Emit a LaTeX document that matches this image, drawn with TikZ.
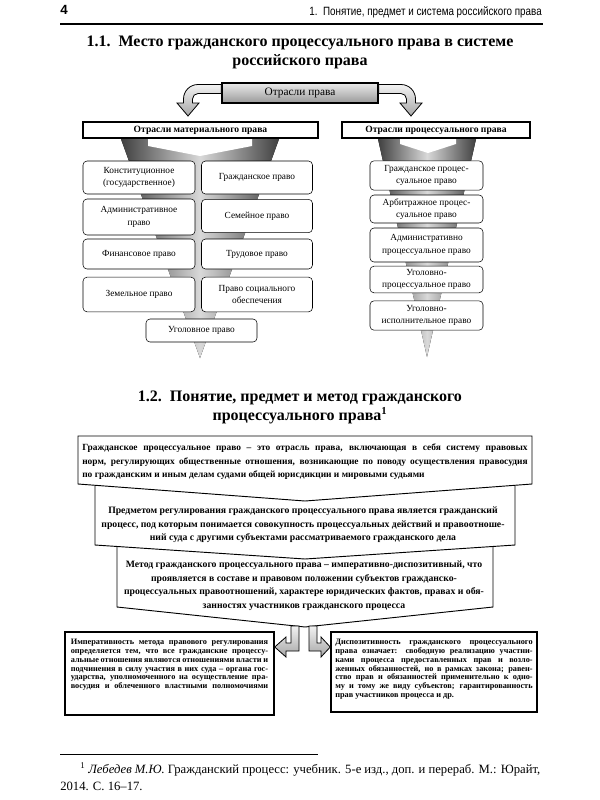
\documentclass[tikz,border=0pt]{standalone}
\usepackage{fontspec}
\setmainfont{Liberation Serif}
\newfontfamily\narrowsans[FakeStretch=0.82]{Liberation Sans}
\newfontfamily\plainsans{Liberation Sans}
\usetikzlibrary{positioning}
\tikzset{
  law box/.style={
    draw,
    rounded corners=3pt,
    fill=white,
    align=center,
    inner sep=1pt,
    font=\fontsize{7}{9.5}\selectfont,
  },
  head bar/.style={
    draw,
    line width=1.2pt,
    fill=white,
    minimum height=12pt,
    inner sep=0pt,
    font=\bfseries\fontsize{7.2}{8}\selectfont,
  },
  root box/.style={
    draw,
    line width=1.2pt,
    top color=black!8,
    bottom color=black!40,
    minimum width=117pt,
    minimum height=15pt,
    inner sep=0pt,
    font=\fontsize{8.5}{10}\selectfont,
  },
  block arrow/.style={
    draw,
    line width=0.6pt,
    top color=black!5,
    bottom color=black!35,
  },
  funnel/.style={
    left color=black!75,
    right color=black!75,
    middle color=black!15,
  },
  chevron box/.style={
    draw,
    line width=0.7pt,
    fill=white,
  },
  chevron text/.style={
    align=center,
    inner sep=0pt,
    font=\bfseries\fontsize{7.3}{10.2}\selectfont,
  },
  small box/.style={
    draw,
    line width=1.1pt,
    fill=white,
    inner sep=0pt,
  },
  small text/.style={
    align=left,
    inner sep=0pt,
    font=\bfseries\fontsize{6.2}{6.6}\selectfont,
  },
  title text/.style={
    align=center,
    inner sep=0pt,
    font=\bfseries\fontsize{12}{14.2}\selectfont,
  },
}
\newcommand{\fullline}[2]{\makebox[#1][s]{#2}}

\begin{document}
\begin{tikzpicture}[x=0.75pt, y=-0.75pt]
  \useasboundingbox[fill=white] (0,0) rectangle (600,800);

  \node[anchor=west, inner sep=0pt, font=\plainsans\bfseries\fontsize{10}{12}\selectfont] (pnum) at (60,10) {4};
  \node[anchor=east, inner sep=0pt, font=\narrowsans\fontsize{9}{11}\selectfont] (runhead) at (542,12) {1.~~Понятие, предмет и система российского права};
  \draw[line width=0.8pt] (60,24) -- (543,24);

  \node[title text] (title1) at (300,52.5) {1.1.~~Место гражданского процессуального права в системе\\российского права};

  \coordinate (mat tip) at (200,358);
  \coordinate (proc tip) at (427,357);
  \fill[funnel] (121,139) -- (279,139) -- (mat tip) -- cycle;
  \fill[funnel] (378,139) -- (476,139) -- (proc tip) -- cycle;
  \fill[white] (148,139) -- (252,139) -- (252,146) -- (200,156) -- (148,146) -- cycle;
  \fill[white] (400,139) -- (456,139) -- (456,144) -- (428,153) -- (400,144) -- cycle;

  \node[root box] (root) at (300,93) {Отрасли права};
  \draw[block arrow] (root.west |- 0,84.5) -- (198,84.5) arc[start angle=-90, end angle=-180, radius=14.5]
    -- (183.5,103) -- (177,103) -- (188,116) -- (199,103) -- (192.5,103) -- (192.5,99)
    arc[start angle=180, end angle=270, radius=5.5] -- (root.west |- 0,93.5) -- cycle;
  \draw[block arrow] (root.east |- 0,84.5) -- (401,84.5) arc[start angle=-90, end angle=0, radius=14.5]
    -- (415.5,103) -- (422,103) -- (411,116) -- (400,103) -- (406.5,103) -- (406.5,99)
    arc[start angle=0, end angle=-90, radius=5.5] -- (root.east |- 0,93.5) -- cycle;

  \node[head bar, minimum width=176pt] (mat) at (200.5,130) {Отрасли материального права};
  \node[head bar, minimum width=141pt] (proc) at (436,130) {Отрасли процессуального права};

  \node[law box, minimum width=84pt, minimum height=24.75pt] (konst) at (139,177.5) {Конституционное\\(государственное)};
  \node[law box, minimum width=83.25pt, minimum height=24.75pt] (civil) at (257,177.5) {Гражданское право};
  \node[law box, minimum width=84pt, minimum height=27pt] (admin) at (139,217) {Административное\\право};
  \node[law box, minimum width=83.25pt, minimum height=25pt] (family) at (257,216) {Семейное право};
  \node[law box, minimum width=84pt, minimum height=22.5pt] (finance) at (139,254) {Финансовое право};
  \node[law box, minimum width=83.25pt, minimum height=22.5pt] (labour) at (257,254) {Трудовое право};
  \node[law box, minimum width=84pt, minimum height=26pt] (land) at (139,294.5) {Земельное право};
  \node[law box, minimum width=83.25pt, minimum height=26pt] (social) at (257,294.5) {Право социального\\обеспечения};
  \node[law box, minimum width=83.25pt, minimum height=17.25pt] (crim) at (201.5,330.5) {Уголовное право};

  \node[law box, minimum width=84.75pt, minimum height=22pt] (civproc) at (426.5,175.5) {Гражданское процес-\\суальное право};
  \node[law box, minimum width=84.75pt, minimum height=21pt] (arbproc) at (426.5,209) {Арбитражное процес-\\суальное право};
  \node[law box, minimum width=84.75pt, minimum height=25.5pt] (admproc) at (426.5,245) {Административно\\процессуальное право};
  \node[law box, minimum width=84.75pt, minimum height=20pt] (crimproc) at (426.5,279.5) {Уголовно-\\процессуальное право};
  \node[law box, minimum width=84.75pt, minimum height=22pt] (crimexec) at (426.5,315.5) {Уголовно-\\исполнительное право};

  \node[title text] (title2) at (300,407.5) {1.2.~~Понятие, предмет и метод гражданского\\процессуального права\textsuperscript{1}};

  \draw[chevron box] (117,540) -- (493,540) -- (493,607) -- (305,627) -- (117,607) -- cycle;
  \draw[chevron box] (95,480) -- (515,480) -- (515,545) -- (305,559) -- (95,545) -- cycle;
  \draw[chevron box] (78,436) -- (532,436) -- (532,484) -- (305,501) -- (78,484) -- cycle;

  \node[chevron text, align=left, font=\bfseries\fontsize{7.05}{10.2}\selectfont] (defin) at (305,462) {%
    \fullline{334pt}{Гражданское процессуальное право – это отрасль права, включающая в себя систему правовых}\\
    \fullline{334pt}{норм, регулирующих общественные отношения, возникающие по поводу осуществления правосудия}\\
    по гражданским и иным делам судами общей юрисдикции и мировыми судьями};
  \node[chevron text] (subject) at (303,525) {%
    Предметом регулирования гражданского процессуального права является гражданский\\
    процесс, под которым понимается совокупность процессуальных действий и правоотноше-\\
    ний суда с другими субъектами рассматриваемого гражданского дела};
  \node[chevron text] (method) at (304,585.5) {%
    Метод гражданского процессуального права – императивно-диспозитивный, что\\
    проявляется в составе и правовом положении субъектов гражданско-\\
    процессуальных правоотношений, характере юридических фактов, правах и обя-\\
    занностях участников гражданского процесса};

  \node[small box, minimum width=156.75pt, minimum height=62.25pt] (imp box) at (169.5,673.5) {};
  \node[small box, minimum width=154.5pt, minimum height=60pt] (disp box) at (434,672) {};
  \node[small text, anchor=north] (imp text) at (imp box.north |- 0,639) {%
    \fullline{148pt}{Императивность метода правового регулирования}\\
    \fullline{148pt}{определяется тем, что все гражданские процессу-}\\
    \fullline{148pt}{альные отношения являются отношениями власти и}\\
    \fullline{148pt}{подчинения в силу участия в них суда – органа гос-}\\
    \fullline{148pt}{ударства, уполномоченного на осуществление пра-}\\
    \fullline{148pt}{восудия и облеченного властными полномочиями}};
  \node[small text, anchor=north] (disp text) at (disp box.north |- 0,639) {%
    \fullline{148pt}{Диспозитивность гражданского процессуального}\\
    \fullline{148pt}{права означает: свободную реализацию участни-}\\
    \fullline{148pt}{ками процесса предоставленных прав и возло-}\\
    \fullline{148pt}{женных обязанностей, но в рамках закона; равен-}\\
    \fullline{148pt}{ство прав и обязанностей применительно к одно-}\\
    \fullline{148pt}{му и тому же виду субъектов; гарантированность}\\
    прав участников процесса и др.};

  \draw[block arrow] (291,626) -- (299,626) -- (299,651) -- (286,651) -- (286,657) -- (imp box.east |- 0,647)
    -- (286,637) -- (286,643) -- (291,643) -- cycle;
  \draw[block arrow] (309,626) -- (317,626) -- (317,643) -- (321,643) -- (321,637) -- (disp box.west |- 0,647)
    -- (321,657) -- (321,651) -- (309,651) -- cycle;

  \draw[line width=0.5pt] (60,754) -- (318,754);
  \node[anchor=north west, align=left, inner sep=0pt, font=\fontsize{9.5}{12.75}\selectfont] (fnote) at (60,762) {%
    \hspace*{15pt}\fullline{345pt}{\textsuperscript{1}\ \textit{Лебедев М.Ю.} Гражданский процесс: учебник. 5-е изд., доп. и перераб. М.: Юрайт,}\\
    2014. С. 16--17.};
\end{tikzpicture}
\end{document}
